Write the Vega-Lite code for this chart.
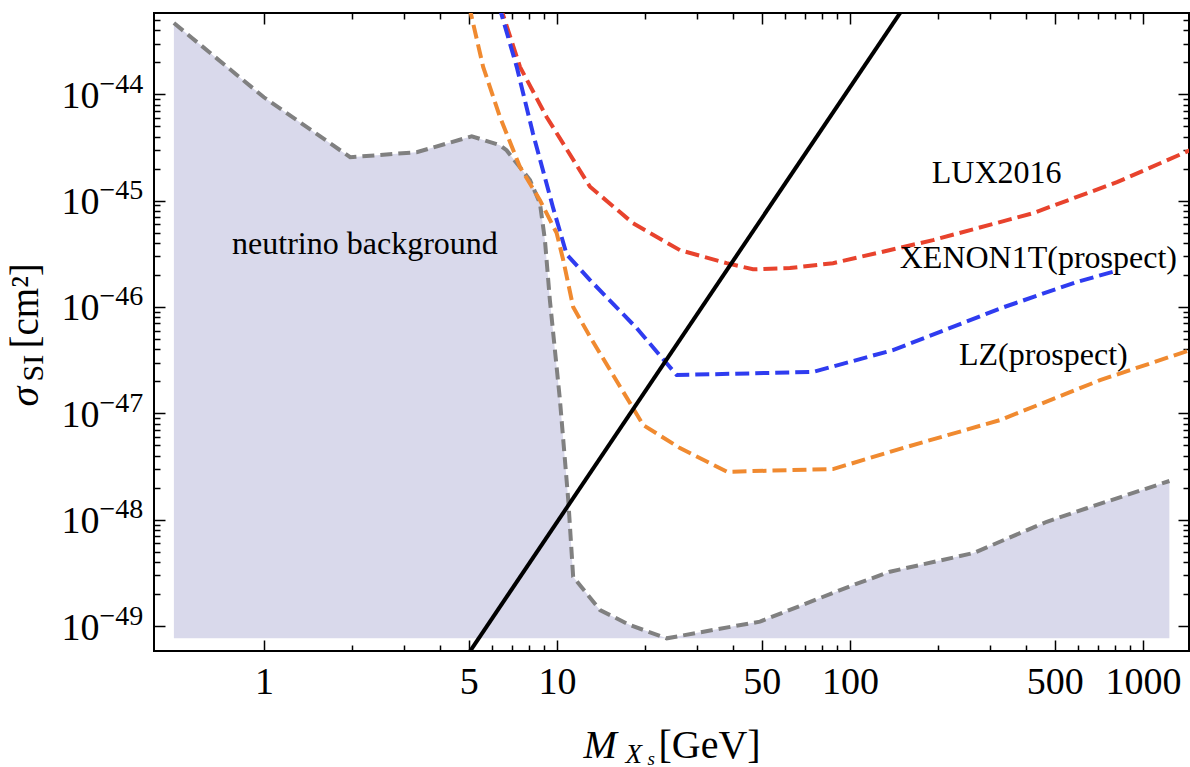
{
  "$schema": "https://vega.github.io/schema/vega-lite/v6.json",
  "width": 1035,
  "height": 638,
  "autosize": {"type": "none"},
  "padding": {"left": 154, "top": 13, "right": 1, "bottom": 116},
  "background": "white",
  "config": {
    "view": {"stroke": "black", "strokeWidth": 2},
    "axis": {
      "domain": false, "grid": false,
      "labelFont": "Liberation Serif", "titleFont": "Liberation Serif",
      "labelColor": "black", "titleColor": "black", "tickColor": "black",
      "titleFontWeight": "normal", "labelFlush": false, "labelOverlap": false,
      "labelBound": false, "tickWidth": 1.5
    },
    "text": {"font": "Liberation Serif"}
  },
  "datasets": {
    "nu": [
      {"m": 0.493, "sigma": 4.68e-44}, {"m": 1.0, "sigma": 9.37e-45}, {"m": 1.97, "sigma": 2.56e-45},
      {"m": 3.32, "sigma": 2.85e-45}, {"m": 5.12, "sigma": 4.03e-45}, {"m": 6.39, "sigma": 3.32e-45},
      {"m": 6.73, "sigma": 2.98e-45}, {"m": 8.09, "sigma": 1.56e-45}, {"m": 8.75, "sigma": 9.46e-46},
      {"m": 9.10, "sigma": 4.25e-46}, {"m": 9.46, "sigma": 1.16e-46}, {"m": 10.24, "sigma": 1.33e-47},
      {"m": 10.93, "sigma": 1.53e-48}, {"m": 11.36, "sigma": 2.90e-49}, {"m": 14.03, "sigma": 1.41e-49},
      {"m": 17.75, "sigma": 1.02e-49}, {"m": 23.68, "sigma": 7.66e-50}, {"m": 49.3, "sigma": 1.10e-49},
      {"m": 102.6, "sigma": 2.43e-49}, {"m": 136.9, "sigma": 3.24e-49}, {"m": 263.6, "sigma": 4.85e-49},
      {"m": 469.2, "sigma": 9.55e-49}, {"m": 642.4, "sigma": 1.28e-48}, {"m": 1230, "sigma": 2.31e-48}
    ],
    "lux": [
      {"m": 6.39, "sigma": 6.85e-44}, {"m": 7.48, "sigma": 1.81e-44}, {"m": 9.22, "sigma": 6.12e-45},
      {"m": 12.97, "sigma": 1.35e-45}, {"m": 18.17, "sigma": 6.14e-46}, {"m": 26.29, "sigma": 3.42e-46},
      {"m": 37.95, "sigma": 2.58e-46}, {"m": 46.66, "sigma": 2.26e-46}, {"m": 62.4, "sigma": 2.32e-46},
      {"m": 87.5, "sigma": 2.58e-46}, {"m": 192, "sigma": 4.25e-46}, {"m": 421.3, "sigma": 7.62e-46},
      {"m": 815, "sigma": 1.49e-45}, {"m": 1447, "sigma": 2.98e-45}
    ],
    "xenon": [
      {"m": 6.34, "sigma": 6.85e-44}, {"m": 7.29, "sigma": 1.81e-44}, {"m": 8.28, "sigma": 4.30e-45},
      {"m": 9.69, "sigma": 8.67e-46}, {"m": 10.79, "sigma": 3.13e-46}, {"m": 12.97, "sigma": 1.79e-46},
      {"m": 18.71, "sigma": 6.32e-47}, {"m": 25.62, "sigma": 2.29e-47}, {"m": 74.8, "sigma": 2.45e-47},
      {"m": 140.2, "sigma": 3.93e-47}, {"m": 325.1, "sigma": 9.68e-47}, {"m": 595.3, "sigma": 1.72e-46},
      {"m": 789.8, "sigma": 2.14e-46}
    ],
    "lz": [
      {"m": 5.01, "sigma": 6.85e-44}, {"m": 5.60, "sigma": 1.81e-44}, {"m": 6.39, "sigma": 6.12e-45},
      {"m": 7.48, "sigma": 2.07e-45}, {"m": 8.75, "sigma": 1.01e-45}, {"m": 9.98, "sigma": 4.94e-46},
      {"m": 10.51, "sigma": 2.75e-46}, {"m": 11.36, "sigma": 1.00e-46}, {"m": 12.97, "sigma": 5.24e-47},
      {"m": 19.71, "sigma": 7.74e-48}, {"m": 26.29, "sigma": 4.71e-48}, {"m": 38.04, "sigma": 2.82e-48},
      {"m": 87.5, "sigma": 2.99e-48}, {"m": 156.5, "sigma": 4.84e-48}, {"m": 325.1, "sigma": 8.63e-48},
      {"m": 713.4, "sigma": 2.05e-47}, {"m": 1447, "sigma": 3.93e-47}
    ],
    "relic": [
      {"m": 5, "sigma": 5.55e-50}, {"m": 150, "sigma": 6.1e-44}
    ],
    "labels": [
      {"m": 2.212, "sigma": 3.18e-46, "label": "neutrino background"},
      {"m": 316.7, "sigma": 1.45e-45, "label": "LUX2016"},
      {"m": 439.3, "sigma": 2.30e-46, "label": "XENON1T(prospect)"},
      {"m": 456.8, "sigma": 2.84e-47, "label": "LZ(prospect)"}
    ]
  },
  "layer": [
    {
      "data": {"name": "nu"},
      "mark": {"type": "area", "color": "#D9D9EB", "clip": true, "interpolate": "linear"},
      "encoding": {
        "x": {"field": "m", "type": "quantitative",
          "scale": {"type": "log", "domain": [0.4217, 1435], "nice": false},
          "axis": {"orient": "bottom", "values": [1, 5, 10, 50, 100, 500, 1000], "format": "d", "ticks": false,
            "labelFontSize": 38, "labelPadding": 12, "labelBaseline": "top", "labelAlign": "center",
            "title": "M", "titleFontSize": 40, "titleFontStyle": "italic", "titleX": 429, "titleY": 106,
            "titleAlign": "left", "titleBaseline": "alphabetic", "titleAngle": 0}},
        "y": {"field": "sigma", "type": "quantitative",
          "scale": {"type": "log", "domain": [5.82e-50, 5.81e-44], "nice": false},
          "axis": {"orient": "left", "values": [1e-49, 1e-48, 1e-47, 1e-46, 1e-45, 1e-44], "ticks": false,
            "labelExpr": "'10'", "labelFontSize": 38, "labelPadding": 55, "labelAlign": "right",
            "labelBaseline": "middle", "labelOffset": 2,
            "title": "σ", "titleFontSize": 40, "titleFontStyle": "italic", "titleAngle": 270,
            "titleX": -117, "titleY": 393, "titleAlign": "left", "titleBaseline": "alphabetic"}},
        "y2": {"datum": 7.66e-50}
      }
    },
    {
      "data": {"name": "nu"},
      "mark": {"type": "line", "color": "#808080", "strokeWidth": 4, "strokeDash": [12, 6], "clip": true},
      "encoding": {
        "x": {"field": "m", "type": "quantitative",
          "scale": {"type": "log", "domain": [0.4217, 1435], "nice": false},
          "axis": {"orient": "bottom", "values": [1, 5, 10, 50, 100, 500, 1000], "ticks": true, "tickSize": -11,
            "labels": false, "title": "X", "titleFontSize": 27, "titleFontStyle": "italic",
            "titleX": 471, "titleY": 111, "titleAlign": "left", "titleBaseline": "alphabetic", "titleAngle": 0}},
        "y": {"field": "sigma", "type": "quantitative",
          "scale": {"type": "log", "domain": [5.82e-50, 5.81e-44], "nice": false},
          "axis": {"orient": "left", "values": [1e-49, 1e-48, 1e-47, 1e-46, 1e-45, 1e-44], "ticks": false,
            "labelExpr": "'−' + round(-log(datum.value)/LN10)", "labelFontSize": 28, "labelPadding": 55,
            "labelAlign": "left", "labelBaseline": "middle", "labelOffset": -10,
            "title": "SI", "titleFontSize": 30, "titleAngle": 270,
            "titleX": -112, "titleY": 368, "titleAlign": "left", "titleBaseline": "alphabetic"}}
      }
    },
    {
      "data": {"name": "lux"},
      "mark": {"type": "line", "color": "#E8432D", "strokeWidth": 4, "strokeDash": [14, 6], "clip": true},
      "encoding": {
        "x": {"field": "m", "type": "quantitative",
          "scale": {"type": "log", "domain": [0.4217, 1435], "nice": false},
          "axis": {"orient": "bottom", "values": [2, 3, 4, 6, 7, 8, 9, 20, 30, 40, 60, 70, 80, 90, 200, 300, 400, 600, 700, 800, 900],
            "ticks": true, "tickSize": -6, "labels": false,
            "title": "s", "titleFontSize": 19, "titleFontStyle": "italic",
            "titleX": 493, "titleY": 113, "titleAlign": "left", "titleBaseline": "alphabetic", "titleAngle": 0}},
        "y": {"field": "sigma", "type": "quantitative",
          "scale": {"type": "log", "domain": [5.82e-50, 5.81e-44], "nice": false},
          "axis": {"orient": "left", "values": [1e-49, 1e-48, 1e-47, 1e-46, 1e-45, 1e-44], "ticks": true, "tickSize": -11,
            "labels": false, "title": "[cm²]", "titleFontSize": 39, "titleAngle": 270,
            "titleX": -117, "titleY": 335, "titleAlign": "left", "titleBaseline": "alphabetic"}}
      }
    },
    {
      "data": {"name": "xenon"},
      "mark": {"type": "line", "color": "#2F3CF0", "strokeWidth": 4, "strokeDash": [14, 6], "clip": true},
      "encoding": {
        "x": {"field": "m", "type": "quantitative",
          "scale": {"type": "log", "domain": [0.4217, 1435], "nice": false},
          "axis": {"orient": "bottom", "values": [], "ticks": false, "labels": false,
            "title": "[GeV]", "titleFontSize": 40,
            "titleX": 504, "titleY": 106, "titleAlign": "left", "titleBaseline": "alphabetic", "titleAngle": 0}},
        "y": {"field": "sigma", "type": "quantitative",
          "scale": {"type": "log", "domain": [5.82e-50, 5.81e-44], "nice": false},
          "axis": {"orient": "left",
            "values": [2e-49, 3e-49, 4e-49, 5e-49, 6e-49, 7e-49, 8e-49, 9e-49,
                       2e-48, 3e-48, 4e-48, 5e-48, 6e-48, 7e-48, 8e-48, 9e-48,
                       2e-47, 3e-47, 4e-47, 5e-47, 6e-47, 7e-47, 8e-47, 9e-47,
                       2e-46, 3e-46, 4e-46, 5e-46, 6e-46, 7e-46, 8e-46, 9e-46,
                       2e-45, 3e-45, 4e-45, 5e-45, 6e-45, 7e-45, 8e-45, 9e-45,
                       2e-44, 3e-44, 4e-44, 5e-44],
            "ticks": true, "tickSize": -6, "labels": false, "title": null}}
      }
    },
    {
      "data": {"name": "lz"},
      "mark": {"type": "line", "color": "#F08A30", "strokeWidth": 4, "strokeDash": [14, 6], "clip": true},
      "encoding": {
        "x": {"field": "m", "type": "quantitative",
          "scale": {"type": "log", "domain": [0.4217, 1435], "nice": false},
          "axis": {"orient": "top", "values": [1, 5, 10, 50, 100, 500, 1000], "ticks": true, "tickSize": -11,
            "labels": false, "title": null}},
        "y": {"field": "sigma", "type": "quantitative",
          "scale": {"type": "log", "domain": [5.82e-50, 5.81e-44], "nice": false},
          "axis": {"orient": "right", "values": [1e-49, 1e-48, 1e-47, 1e-46, 1e-45, 1e-44], "ticks": true, "tickSize": -11,
            "labels": false, "title": null}}
      }
    },
    {
      "data": {"name": "relic"},
      "mark": {"type": "line", "color": "black", "strokeWidth": 4, "clip": true},
      "encoding": {
        "x": {"field": "m", "type": "quantitative",
          "scale": {"type": "log", "domain": [0.4217, 1435], "nice": false},
          "axis": {"orient": "top", "values": [2, 3, 4, 6, 7, 8, 9, 20, 30, 40, 60, 70, 80, 90, 200, 300, 400, 600, 700, 800, 900],
            "ticks": true, "tickSize": -6, "labels": false, "title": null}},
        "y": {"field": "sigma", "type": "quantitative",
          "scale": {"type": "log", "domain": [5.82e-50, 5.81e-44], "nice": false},
          "axis": {"orient": "right",
            "values": [2e-49, 3e-49, 4e-49, 5e-49, 6e-49, 7e-49, 8e-49, 9e-49,
                       2e-48, 3e-48, 4e-48, 5e-48, 6e-48, 7e-48, 8e-48, 9e-48,
                       2e-47, 3e-47, 4e-47, 5e-47, 6e-47, 7e-47, 8e-47, 9e-47,
                       2e-46, 3e-46, 4e-46, 5e-46, 6e-46, 7e-46, 8e-46, 9e-46,
                       2e-45, 3e-45, 4e-45, 5e-45, 6e-45, 7e-45, 8e-45, 9e-45,
                       2e-44, 3e-44, 4e-44, 5e-44],
            "ticks": true, "tickSize": -6, "labels": false, "title": null}}
      }
    },
    {
      "data": {"name": "labels"},
      "mark": {"type": "text", "fontSize": 32, "font": "Liberation Serif", "color": "black", "align": "center", "baseline": "alphabetic"},
      "encoding": {
        "x": {"field": "m", "type": "quantitative",
          "scale": {"type": "log", "domain": [0.4217, 1435], "nice": false}, "axis": null},
        "y": {"field": "sigma", "type": "quantitative",
          "scale": {"type": "log", "domain": [5.82e-50, 5.81e-44], "nice": false}, "axis": null},
        "text": {"field": "label"}
      }
    }
  ],
  "resolve": {"axis": {"x": "independent", "y": "independent"}}
}
